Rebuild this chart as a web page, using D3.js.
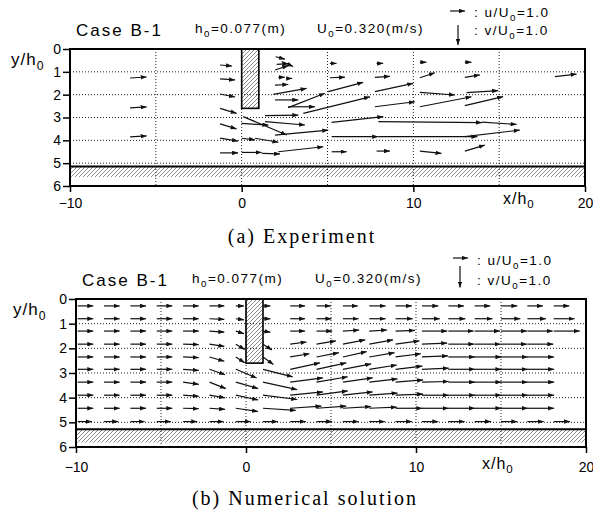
<!DOCTYPE html>
<html>
<head>
<meta charset="utf-8">
<script src="https://cdn.jsdelivr.net/npm/d3@7"></script>
<style>
  body { margin: 0; background: #fff; }
</style>
</head>
<body>
<svg id="fig" width="593" height="516"></svg>
<script>
// Case B-1 velocity vectors: (a) experiment, (b) numerical solution
// x/h0, y/h0 axes; arrows are u/U0, v/U0 (v positive downward)

const xTicks = [-10, 0, 10, 20];
const yTicks = [0, 1, 2, 3, 4, 5, 6];
const gridX = [-5, 0, 5, 10, 15];
const gridY = [1, 2, 3, 4, 5];
const plateX = [0, 1];
const plateDepth = 2.6;
const legendU = 1.0;
const legendV = 1.0;

// (a) measured vectors: tail x/h0, tail y/h0, u/U0, v/U0
const expX = [-6.5, -6.5, -6.5, -1.26, -1.26, -1.26, -1.26, -1.26, -1.26, -1.26,
  1.98, 2.33, 1.94, 2.04, 2.13, 2.62, 1.94, 1.84, 1.94, 2.71, 2.71, 5.04, 3.59, 7.76, 7.76,
  5.14, 7.86, 5.14, 7.76, 1.36, 0.09, 0.0, 1.36, 1.94, 0.78, 0.0, 5.24, 5.24, 7.96, 7.96, 14.0,
  0.0, 1.17, 2.13, 5.24, 7.86,
  10.38, 13.0, 10.38, 13.0, 10.38, 13.1, 10.38, 13.0, 13.0, 10.38, 13.0, 18.25];
const expY = [1.27, 2.58, 3.85, 0.7, 1.31, 1.97, 2.6, 3.28, 3.9, 4.55,
  0.34, 0.55, 0.92, 0.67, 1.24, 1.29, 1.58, 1.99, 2.23, 2.53, 2.57, 1.87, 2.82, 2.53, 1.87,
  0.63, 0.63, 1.26, 1.24, 2.92, 2.96, 3.26, 3.18, 3.77, 3.91, 3.91, 3.21, 3.84, 3.84, 3.18, 3.2,
  4.53, 4.57, 4.5, 4.5, 4.47,
  0.58, 0.58, 1.26, 1.24, 1.9, 1.91, 2.53, 2.48, 3.84, 4.47, 4.47, 1.21];
const expU = [1.1, 1.1, 1.1, 0.8, 1.0, 1.0, 1.1, 1.1, 1.2, 1.2,
  0.62, 0.77, 0.89, 0.78, 0.44, 0.37, 0.89, 2.22, 1.55, 1.78, 2.44, 2.33, 4.44, 2.66, 2.55,
  0.44, 0.44, 1.0, 1.0, 2.22, 2.89, 1.78, 2.66, 3.55, 1.55, 0.89, 3.44, 3.1, 6.6, 6.9, 2.3,
  1.33, 1.22, 3.0, 1.0, 0.89,
  0.44, 0.44, 1.0, 1.0, 2.33, 2.1, 3.44, 2.55, 3.66, 1.44, 1.33, 1.44];
const expV = [-0.05, -0.05, -0.05, 0.05, 0.05, 0.15, 0.25, 0.25, 0.15, 0,
  0.12, 0.25, -0.22, -0.03, 0, 0, -0.03, -0.3, 0, 0, -0.72, -0.47, -0.83, -0.25, -0.42,
  0, 0, -0.03, -0.05, -0.03, 0.92, 0.08, 0.17, -0.25, 0.2, 0.08, -0.28, 0, 0, 0.05, 0.12,
  0, 0.03, -0.25, 0, 0,
  0, 0, -0.25, -0.12, 0.13, -0.1, -0.5, -0.45, -0.33, 0.12, -0.3, -0.13];

// (b) computed vectors on the output grid
const numX = [-9.9, -8.35, -6.8, -5.25, -3.7, -2.15, -0.6, 1.0, 2.6, 4.15,
  5.7, 7.25, 8.8, 10.35, 11.9, 13.45, 15.0, 16.55, 18.1];
const numY = [0.28, 0.8, 1.3, 1.83, 2.35, 2.85, 3.37, 3.9, 4.43, 4.97];
const numU = [
  [1.05, 1.05, 1.05, 1.05, 1.05, 1.0, 0.55, 0.5, 1.0, 0.95, 1.0, 1.1, 1.1, 1.1, 1.05, 1.05, 1.1, 1.05, 1.05],
  [1.05, 1.05, 1.05, 1.05, 1.05, 1.0, 0.55, 0.5, 1.0, 1.0, 1.05, 1.1, 1.15, 1.2, 1.15, 1.2, 1.3, 1.25, 1.4],
  [1.05, 1.05, 1.05, 1.05, 1.05, 1.0, 0.55, 0.5, 1.0, 1.05, 1.1, 1.2, 1.3, 1.7, 1.7, 1.7, 1.75, 1.7, 1.75],
  [1.05, 1.05, 1.05, 1.05, 1.05, 1.0, 0.6, 0.6, 1.1, 1.3, 1.5, 1.6, 1.6, 1.7, 1.75, 1.75, 1.75, 1.75, null],
  [1.05, 1.05, 1.05, 1.05, 1.05, 1.0, 0.6, 0.7, 1.3, 1.5, 1.6, 1.7, 1.7, 1.75, 1.8, 1.8, 1.8, 1.8, null],
  [1.05, 1.05, 1.05, 1.05, 1.05, 1.05, 1.4, 2.0, 2.0, 2.0, 1.9, 1.85, 1.8, 1.8, 1.8, 1.8, 1.8, 1.8, null],
  [1.05, 1.05, 1.05, 1.05, 1.05, 1.1, 1.5, 2.3, 2.2, 2.1, 2.0, 1.9, 1.85, 1.8, 1.8, 1.8, 1.8, 1.8, null],
  [1.05, 1.05, 1.05, 1.05, 1.05, 1.05, 1.5, 2.3, 2.2, 2.1, 2.0, 1.9, 1.85, 1.8, 1.8, 1.8, 1.8, 1.8, null],
  [1.05, 1.05, 1.05, 1.05, 1.05, 1.05, 1.5, 2.2, 2.1, 2.0, 1.9, 1.85, 1.8, 1.8, 1.8, 1.8, 1.8, 1.8, null],
  [0.95, 0.95, 0.95, 0.95, 0.95, 0.95, 1.0, 1.0, 1.05, 1.05, 1.05, 1.05, 1.1, 1.1, 1.1, 1.1, 1.1, 1.1, 1.1]
];
const numV = [
  [0, 0, 0, 0, 0, 0, 0, 0, 0, 0, 0, 0, 0, 0, 0, 0, 0, 0, 0],
  [0, 0, 0, 0, 0, 0.03, 0.05, 0, 0, 0, 0, 0, 0, 0, 0, 0, 0, 0, 0],
  [0, 0, 0, 0, 0, 0.05, 0.12, 0.05, 0, 0, -0.05, -0.05, -0.03, 0, 0, 0, 0, 0, 0],
  [0, 0, 0, 0, 0.02, 0.1, 0.25, 0.27, -0.1, -0.15, -0.2, -0.2, -0.15, -0.05, 0, 0, 0, 0, null],
  [0, 0, 0, 0, 0.03, 0.2, 0.27, 0.35, -0.15, -0.2, -0.25, -0.2, -0.15, -0.05, 0, 0, 0, 0, null],
  [0, 0, 0, 0, 0.05, 0.25, 0.4, 0.35, -0.3, -0.3, -0.25, -0.2, -0.15, -0.05, 0, 0, 0, 0, null],
  [0, 0, 0, 0, 0.1, 0.3, 0.3, 0.35, -0.2, -0.25, -0.2, -0.15, -0.1, -0.03, 0, 0, 0, 0, null],
  [0, 0, 0, 0, 0.05, 0.12, 0.22, 0.2, -0.15, -0.2, -0.15, -0.1, -0.05, 0, 0, 0, 0, 0, null],
  [0, 0, 0, 0, 0.02, 0.05, 0.15, 0.1, -0.1, -0.1, -0.08, -0.05, 0, 0, 0, 0, 0, 0, null],
  [0, 0, 0, 0, 0, 0, 0, 0, 0, 0, 0, 0, 0, 0, 0, 0, 0, 0, 0]
];

// arrow length in h0 per unit of u/U0
const ARROW_SCALE = 0.875;
const SANS = 'Liberation Sans, Arial, Helvetica, sans-serif';
const SERIF = 'Liberation Serif, Times New Roman, serif';

const svg = d3.select('#fig');
const defs = svg.append('defs');

defs.append('marker')
    .attr('id', 'head')
    .attr('viewBox', '0 0 8 6')
    .attr('refX', 8).attr('refY', 3)
    .attr('markerWidth', 6).attr('markerHeight', 4.5)
    .attr('markerUnits', 'userSpaceOnUse')
    .attr('orient', 'auto')
    .append('path').attr('d', 'M0,0L8,3L0,6Z').attr('fill', '#111');

const hatch = defs.append('pattern')
    .attr('id', 'hatch')
    .attr('patternUnits', 'userSpaceOnUse')
    .attr('width', 4).attr('height', 4);
hatch.append('path')
    .attr('d', 'M-1,1L1,-1M0,4L4,0M3,5L5,3')
    .attr('stroke', '#555').attr('stroke-width', 0.7);

// panel layouts (pixels)
const panels = [
    {
        left: 70, right: 585, top: 49, bottom: 186, bed: [5.15, 5.6], xPad: 6,
        arrows: expX.map((x, i) => ({ x, y: expY[i], u: expU[i], v: expV[i] })),
        caseAt: [76, 36], hAt: [195, 33], uAt: [317, 33],
        legH: [450, 11], legTxt1: [474, 17], legV: [458, 25], legTxt2: [474, 35],
        yLab: [11, 65], xLab: [503, 204], caption: [302, 243], captionText: '(a) Experiment'
    },
    {
        left: 76, right: 586, top: 299, bottom: 447, bed: [5.28, 5.82], xPad: 9,
        arrows: numY.flatMap((y, r) => numX.map((x, c) => ({ x, y, u: numU[r][c], v: numV[r][c] })))
            .filter(d => d.u !== null),
        caseAt: [82, 286], hAt: [192, 283], uAt: [315, 283],
        legH: [453, 258], legTxt1: [477, 265], legV: [460, 266], legTxt2: [477, 285],
        yLab: [13, 315], xLab: [482, 469], caption: [305, 505], captionText: '(b) Numerical solution'
    }
];

function subText(g, pos, size, ls, base, sub, rest) {
    const t = g.append('text')
        .attr('x', pos[0]).attr('y', pos[1])
        .attr('font-family', SANS).attr('font-size', size)
        .attr('letter-spacing', ls).attr('fill', '#000');
    t.append('tspan').text(base);
    t.append('tspan').attr('font-size', size * 0.72).attr('dy', size * 0.28).text(sub);
    if (rest) t.append('tspan').attr('dy', -size * 0.28).text(rest);
    return t;
}

function drawPanel(p) {
    const x = d3.scaleLinear().domain([-10, 20]).range([p.left, p.right]);
    const y = d3.scaleLinear().domain([0, 6]).range([p.top, p.bottom]);
    const g = svg.append('g');

    // Bed (hatched)
    g.append('rect')
        .attr('x', x(-10)).attr('y', y(p.bed[0]))
        .attr('width', x(20) - x(-10)).attr('height', y(p.bed[1]) - y(p.bed[0]))
        .attr('fill', 'url(#hatch)');
    g.append('line')
        .attr('x1', x(-10)).attr('x2', x(20))
        .attr('y1', y(p.bed[0])).attr('y2', y(p.bed[0]))
        .attr('stroke', '#000').attr('stroke-width', 2);

    // Dotted grid
    g.selectAll('.gx').data(gridX).enter().append('line')
        .attr('x1', d => x(d)).attr('x2', d => x(d))
        .attr('y1', y(0)).attr('y2', y(6))
        .attr('stroke', '#222').attr('stroke-width', 1).attr('stroke-dasharray', '1,2');
    g.selectAll('.gy').data(gridY).enter().append('line')
        .attr('x1', x(-10)).attr('x2', x(20))
        .attr('y1', d => y(d)).attr('y2', d => y(d))
        .attr('stroke', '#222').attr('stroke-width', 1).attr('stroke-dasharray', '1,2');

    // Plate
    g.append('rect')
        .attr('x', x(plateX[0])).attr('y', y(0))
        .attr('width', x(plateX[1]) - x(plateX[0])).attr('height', y(plateDepth) - y(0))
        .attr('fill', 'url(#hatch)')
        .attr('stroke', '#000').attr('stroke-width', 1.6);

    // Vectors
    g.selectAll('.vec').data(p.arrows).enter().append('line')
        .attr('x1', d => x(d.x)).attr('y1', d => y(d.y))
        .attr('x2', d => x(d.x + d.u * ARROW_SCALE))
        .attr('y2', d => y(d.y + d.v * ARROW_SCALE))
        .attr('stroke', '#111').attr('stroke-width', 1.2)
        .attr('marker-end', 'url(#head)');

    // Frame
    g.append('rect')
        .attr('x', x(-10)).attr('y', y(0))
        .attr('width', x(20) - x(-10)).attr('height', y(6) - y(0))
        .attr('fill', 'none').attr('stroke', '#000').attr('stroke-width', 2);

    // Axes
    const ya = g.append('g')
        .attr('transform', `translate(${x(-10)},0)`)
        .call(d3.axisLeft(y).tickValues(yTicks).tickFormat(d3.format('d')).tickSize(7).tickPadding(2));
    ya.select('.domain').remove();
    ya.selectAll('line').attr('stroke', '#000').attr('stroke-width', 1.5);
    ya.selectAll('text').attr('font-family', SANS).attr('font-size', 14).attr('fill', '#000');

    const xa = g.append('g')
        .attr('transform', `translate(0,${y(6)})`)
        .call(d3.axisBottom(x).tickValues(xTicks).tickFormat(d3.format('d')).tickSize(6).tickPadding(p.xPad));
    xa.select('.domain').remove();
    xa.selectAll('line').attr('stroke', '#000').attr('stroke-width', 1.5);
    xa.selectAll('text').attr('font-family', SANS).attr('font-size', 14).attr('fill', '#000');

    // Header texts
    g.append('text')
        .attr('x', p.caseAt[0]).attr('y', p.caseAt[1])
        .attr('font-family', SANS).attr('font-size', 17).attr('letter-spacing', 2)
        .text('Case B-1');
    subText(g, p.hAt, 13.5, 1.5, 'h', '0', '=0.077(m)');
    subText(g, p.uAt, 13.5, 1.5, 'U', '0', '=0.320(m/s)');

    // Legend arrows (same scale as the vectors)
    const lenU = x(-10 + legendU * ARROW_SCALE) - x(-10);
    const lenV = y(legendV * ARROW_SCALE) - y(0);
    g.append('line')
        .attr('x1', p.legH[0]).attr('y1', p.legH[1])
        .attr('x2', p.legH[0] + lenU).attr('y2', p.legH[1])
        .attr('stroke', '#111').attr('stroke-width', 1.2).attr('marker-end', 'url(#head)');
    g.append('line')
        .attr('x1', p.legV[0]).attr('y1', p.legV[1])
        .attr('x2', p.legV[0]).attr('y2', p.legV[1] + lenV)
        .attr('stroke', '#111').attr('stroke-width', 1.2).attr('marker-end', 'url(#head)');
    subText(g, p.legTxt1, 13.5, 1.5, ': u/U', '0', '=1.0');
    subText(g, p.legTxt2, 13.5, 1.5, ': v/U', '0', '=1.0');

    // Axis titles
    subText(g, p.yLab, 17, 1, 'y/h', '0');
    subText(g, p.xLab, 16, 1, 'x/h', '0');

    // Caption
    g.append('text')
        .attr('x', p.caption[0]).attr('y', p.caption[1])
        .attr('text-anchor', 'middle')
        .attr('font-family', SERIF).attr('font-size', 20).attr('letter-spacing', 2)
        .text(p.captionText);
}

panels.forEach(drawPanel);
</script>
</body>
</html>
